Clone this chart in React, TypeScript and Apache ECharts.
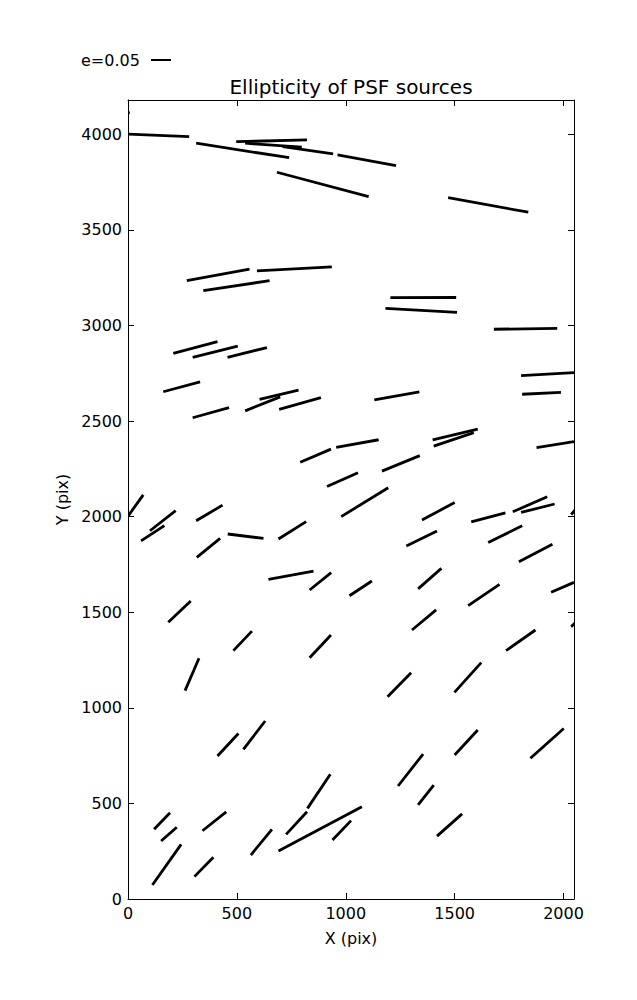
import React, { useEffect, useRef } from "react";
import * as echarts from "echarts";

// Segment endpoints (pix) of the PSF ellipticity whiskers
const xStart = [0, -30, 313, 497, 538, 710, 962, 684, 1470, 270, 592, 346, 1205, 1182, 1680, 1805, 1810, 1399, 1404, 1876,
  208, 297, 457, 162, 297, 538, 604, 694, 1131, 791, 956, 1166, 914, 979, 1, 101, 60, 313, 316, 458,
  691, 645, 185, 484, 262, 1350, 1278, 834, 1017, 1332, 1304, 834, 1192, 1576, 1767, 1805, 2035, 1654, 1795, 1562,
  1943, 2035, 1736, 1499, 411, 530, 120, 152, 342, 112, 305, 564, 824, 726, 691, 939, 1240, 1332, 1500, 1848, 1419];
const yStart = [4000, 4115, 3953, 3961, 3953, 3935, 3892, 3801, 3668, 3234, 3285, 3182, 3145, 3089, 2980, 2737, 2640, 2401, 2369, 2361,
  2854, 2833, 2833, 2653, 2517, 2553, 2613, 2561, 2611, 2284, 2362, 2238, 2157, 2000, 2004, 1926, 1873, 1978, 1787, 1909,
  1883, 1672, 1447, 1299, 1090, 1982, 1846, 1616, 1586, 1622, 1407, 1262, 1058, 1973, 2025, 2022, 2010, 1864, 1764, 1534,
  1604, 1424, 1299, 1081, 748, 783, 365, 303, 357, 73, 117, 230, 474, 338, 251, 309, 591, 492, 753, 736, 329];
const xEnd = [281, 8, 740, 822, 798, 942, 1231, 1105, 1838, 558, 936, 650, 1507, 1511, 1971, 2048, 1988, 1606, 1588, 2048,
  411, 504, 638, 331, 464, 699, 783, 886, 1338, 932, 1151, 1340, 1056, 1195, 70, 219, 167, 434, 423, 622,
  818, 852, 288, 569, 326, 1500, 1419, 933, 1120, 1439, 1415, 932, 1300, 1733, 1925, 1959, 2060, 1810, 1949, 1706,
  2048, 2060, 1871, 1622, 507, 630, 193, 224, 451, 244, 392, 661, 929, 822, 1074, 1024, 1355, 1404, 1606, 2001, 1534];
const yEnd = [3987, 4112, 3877, 3970, 3932, 3897, 3836, 3674, 3592, 3295, 3306, 3234, 3146, 3068, 2985, 2753, 2650, 2458, 2439, 2392,
  2915, 2892, 2884, 2705, 2570, 2626, 2662, 2622, 2653, 2353, 2402, 2319, 2229, 2151, 2114, 2031, 1953, 2060, 1886, 1886,
  1974, 1715, 1559, 1401, 1259, 2074, 1925, 1707, 1663, 1729, 1512, 1381, 1183, 2020, 2104, 2066, 2045, 1952, 1856, 1646,
  1656, 1452, 1407, 1236, 866, 931, 451, 375, 456, 286, 218, 364, 652, 456, 483, 410, 758, 596, 884, 892, 445];

const xTicks = [0, 500, 1000, 1500, 2000];
const yTicks = [0, 500, 1000, 1500, 2000, 2500, 3000, 3500, 4000];
const xMax = 2048;
const yMax = 4179;
const titleText = "Ellipticity of PSF sources";
const xName = "X (pix)";
const yName = "Y (pix)";
const keyLabel = "e=0.05";

const FONT = "DejaVu Sans";

export default function App() {
  const ref = useRef<HTMLDivElement>(null);
  useEffect(() => {
    if (!ref.current) return;
    const chart = echarts.init(ref.current, undefined, { renderer: "svg" });
    const segs = xStart.map((x, i) => [x, yStart[i], xEnd[i], yEnd[i]]);
    const fmtX = (v: number) => (xTicks.includes(v) ? String(v) : "");
    const fmtY = (v: number) => (yTicks.includes(v) ? String(v) : "");
    const baseAxis = {
      type: "value" as const,
      splitLine: { show: false },
      axisLine: { show: true, onZero: false, lineStyle: { color: "#000", width: 1 } },
      axisTick: { show: true, inside: true, length: 6, lineStyle: { color: "#000", width: 1 } },
    };
    chart.setOption({
      animation: false,
      backgroundColor: "#fff",
      grid: { left: 128, right: 63, top: 100, bottom: 101, containLabel: false },
      xAxis: [
        {
          ...baseAxis,
          position: "bottom",
          min: 0,
          max: xMax,
          interval: 500,
          axisLabel: { color: "#000", fontFamily: FONT, fontSize: 16, margin: 6, formatter: fmtX },
          name: xName,
          nameLocation: "middle",
          nameGap: 31,
          nameTextStyle: { color: "#000", fontFamily: FONT, fontSize: 16 },
        },
        {
          ...baseAxis,
          position: "top",
          min: 0,
          max: xMax,
          interval: 500,
          axisLabel: { show: false },
        },
      ],
      yAxis: [
        {
          ...baseAxis,
          position: "left",
          min: 0,
          max: yMax,
          interval: 500,
          axisLabel: { color: "#000", fontFamily: FONT, fontSize: 16, margin: 6, formatter: fmtY },
          name: yName,
          nameLocation: "middle",
          nameGap: 56,
          nameRotate: 90,
          nameTextStyle: { color: "#000", fontFamily: FONT, fontSize: 16 },
        },
        {
          ...baseAxis,
          position: "right",
          min: 0,
          max: yMax,
          interval: 500,
          axisLabel: { show: false },
        },
      ],
      graphic: [
        {
          type: "text",
          x: 351,
          y: 87,
          style: {
            text: titleText,
            fill: "#000",
            font: `20px "${FONT}"`,
            textAlign: "center",
            textVerticalAlign: "middle",
          },
        },
        {
          type: "text",
          x: 81,
          y: 60,
          style: {
            text: keyLabel,
            fill: "#000",
            font: `16px "${FONT}"`,
            textAlign: "left",
            textVerticalAlign: "middle",
          },
        },
        {
          type: "line",
          shape: { x1: 151, y1: 60, x2: 171, y2: 60 },
          style: { stroke: "#000", lineWidth: 2 },
        },
      ],
      series: [
        {
          type: "custom",
          coordinateSystem: "cartesian2d",
          xAxisIndex: 0,
          yAxisIndex: 0,
          clip: true,
          data: segs,
          encode: { x: [0, 2], y: [1, 3] },
          renderItem: (_params: any, api: any) => {
            const p1 = api.coord([api.value(0), api.value(1)]);
            const p2 = api.coord([api.value(2), api.value(3)]);
            return {
              type: "line",
              shape: { x1: p1[0], y1: p1[1], x2: p2[0], y2: p2[1] },
              style: { stroke: "#000", lineWidth: 2.8, lineCap: "butt" },
            };
          },
        },
      ],
    });
    return () => chart.dispose();
  }, []);
  return (
    <div
      ref={ref}
      style={{ position: "fixed", left: 0, top: 0, width: 637, height: 1000, background: "#fff" }}
    />
  );
}
